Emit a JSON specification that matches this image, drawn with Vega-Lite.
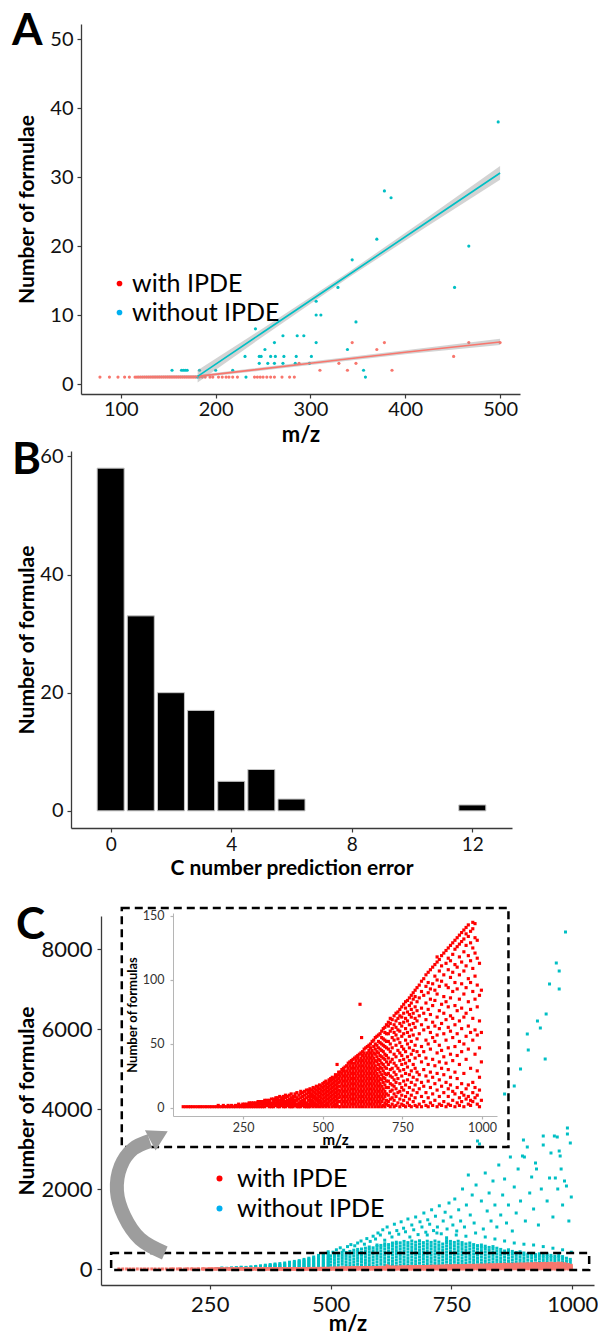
{
  "$schema": "https://vega.github.io/schema/vega-lite/v6.json",
  "background": "white",
  "padding": {"left": 12, "top": 10, "right": 0, "bottom": 0},
  "config": {
    "font": "Lato",
    "view": {"stroke": null},
    "axis": {"grid": false, "domainColor": "#3a3a3a", "tickColor": "#3a3a3a", "domainWidth": 1.3, "tickWidth": 1.2, "tickSize": 4, "labelColor": "#111111", "titleColor": "#000000", "labelFont": "Lato", "titleFont": "Lato", "titleFontWeight": "bold", "labelFlush": false, "labelOverlap": false},
    "title": {"font": "Lato", "fontSize": 44, "fontWeight": "bold", "anchor": "start", "frame": "bounds", "baseline": "alphabetic", "offset": 0, "color": "#000000"},
    "legend": {"labelFont": "Lato", "labelColor": "#000000", "symbolType": "circle", "symbolStrokeWidth": 0, "symbolOpacity": 1}
  },
  "columns": 1,
  "align": "none",
  "spacing": 25,
  "resolve": {"scale": {"fill": "independent"}, "legend": {"fill": "independent"}},
  "concat": [
    {
      "columns": 1,
      "align": "none",
      "spacing": -6,
      "resolve": {"scale": {"fill": "independent"}, "legend": {"fill": "independent"}},
      "concat": [
        {
          "title": {"text": "A", "dy": 34, "dx": -4},
          "width": 449,
          "height": 370,
          "layer": [
            {
              "data": {"values": "x,y\n78,1\n88,1\n97,1\n104,1\n109,1\n115,1\n117,1\n119,1\n121,1\n123,1\n125,1\n127,1\n129,1\n131,1\n133,1\n135,1\n137,1\n139,1\n141,1\n143,1\n145,1\n147,1\n149,1\n151,1\n153,1\n155,1\n157,1\n159,1\n161,1\n163,1\n165,1\n167,1\n169,1\n171,1\n173,1\n175,1\n177,1\n179,1\n183,1\n186,1\n189,1\n194,1\n197,1\n203,1\n207,1\n211,1\n214,1\n218,1\n223,1\n241,1\n244,1\n247,1\n250,1\n254,1\n258,1\n262,1\n270,1\n278,1\n283,1\n310,2\n339,2\n386,2\n288,3\n330,3\n348,3\n451,4\n370,5\n344,6\n378,6\n467,6\n500,6", "format": {"type": "csv", "parse": {"x": "number", "y": "number"}}},
              "mark": {"type": "point", "filled": true, "size": 10, "opacity": 1, "color": "#F8766D"},
              "encoding": {
                "x": {"field": "x", "type": "quantitative", "scale": {"domain": [58, 521], "range": [10, 449], "nice": false, "zero": false}, "axis": {"title": "m/z", "values": [100, 200, 300, 400, 500], "labelFontSize": 20, "titleFontSize": 22, "labelPadding": 1, "titlePadding": 5}},
                "y": {"field": "y", "type": "quantitative", "scale": {"domain": [-1.45, 52.2], "nice": false, "zero": false}, "axis": {"title": "Number of formulae", "offset": -10, "values": [0, 10, 20, 30, 40, 50], "labelFontSize": 20, "titleFontSize": 21, "labelPadding": 4, "minExtent": 30, "maxExtent": 30, "titlePadding": 14}}
              }
            },
            {
              "data": {"values": "x,y\n154,2\n164,2\n166,2\n168,2\n170,2\n183,2\n200,2\n218,2\n356,2\n181,1\n232,1\n358,1\n231,4\n246,4\n248,4\n258,4\n263,4\n272,4\n285,4\n301,4\n246,3\n255,3\n262,3\n271,3\n284,3\n299,3\n252,5\n339,5\n262,6\n306,6\n271,7\n286,7\n293,7\n242,8\n348,9\n306,10\n311,10\n306,12\n329,14\n452,14\n344,18\n370,21\n378,28\n385,27\n467,20\n498,38", "format": {"type": "csv", "parse": {"x": "number", "y": "number"}}},
              "mark": {"type": "point", "filled": true, "size": 10, "opacity": 1, "color": "#00BFC4"},
              "encoding": {
                "x": {"field": "x", "type": "quantitative"},
                "y": {"field": "y", "type": "quantitative"}
              }
            },
            {
              "data": {"name": "fits", "values": [
                {"g": "with IPDE", "x": 117, "y": 1.05, "lo": 0.9, "hi": 1.2},
                {"g": "with IPDE", "x": 181, "y": 1.1, "lo": 0.9, "hi": 1.3},
                {"g": "with IPDE", "x": 300, "y": 3.0, "lo": 2.75, "hi": 3.25},
                {"g": "with IPDE", "x": 400, "y": 4.6, "lo": 4.3, "hi": 4.9},
                {"g": "with IPDE", "x": 500, "y": 6.1, "lo": 5.65, "hi": 6.55},
                {"g": "without IPDE", "x": 181, "y": 1.1, "lo": 0.2, "hi": 2.0},
                {"g": "without IPDE", "x": 250, "y": 7.5, "lo": 6.9, "hi": 8.1},
                {"g": "without IPDE", "x": 340, "y": 15.8, "lo": 15.4, "hi": 16.2},
                {"g": "without IPDE", "x": 420, "y": 23.2, "lo": 22.6, "hi": 23.8},
                {"g": "without IPDE", "x": 500, "y": 30.6, "lo": 29.6, "hi": 31.6}
              ]},
              "mark": {"type": "area", "color": "#9e9e9e", "opacity": 0.45},
              "encoding": {
                "x": {"field": "x", "type": "quantitative"},
                "y": {"field": "lo", "type": "quantitative"},
                "y2": {"field": "hi"},
                "detail": {"field": "g"}
              }
            },
            {
              "data": {"name": "fits"},
              "transform": [{"filter": {"field": "g", "equal": "with IPDE"}}],
              "mark": {"type": "line", "strokeWidth": 1.6, "color": "#F8766D"},
              "encoding": {
                "x": {"field": "x", "type": "quantitative"},
                "y": {"field": "y", "type": "quantitative"}
              }
            },
            {
              "data": {"name": "fits"},
              "transform": [{"filter": {"field": "g", "equal": "without IPDE"}}],
              "mark": {"type": "line", "strokeWidth": 1.6, "color": "#00BFC4"},
              "encoding": {
                "x": {"field": "x", "type": "quantitative"},
                "y": {"field": "y", "type": "quantitative"}
              }
            },
            {
              "data": {"values": [{"g": "with IPDE"}, {"g": "without IPDE"}]},
              "mark": {"type": "point", "filled": true, "opacity": 0},
              "encoding": {
                "fill": {"field": "g", "type": "nominal", "scale": {"domain": ["with IPDE", "without IPDE"], "range": ["#ff0000", "#00b0f0"]}, "legend": {"orient": "none", "legendX": 36, "legendY": 247, "title": null, "labelFontSize": 25, "symbolSize": 32, "labelOffset": 0, "rowPadding": 3, "symbolType": "circle", "symbolOpacity": 1}}
              }
            }
          ]
        },
        {
          "title": {"text": "B", "dy": 41, "dx": -4},
          "width": 441,
          "height": 377,
          "data": {"values": [
            {"err": 0, "n": 58}, {"err": 1, "n": 33}, {"err": 2, "n": 20}, {"err": 3, "n": 17},
            {"err": 4, "n": 5}, {"err": 5, "n": 7}, {"err": 6, "n": 2}, {"err": 12, "n": 1}
          ]},
          "mark": {"type": "bar", "width": 27, "color": "#000000", "stroke": "#c4c4c4", "strokeWidth": 1},
          "encoding": {
            "x": {"field": "err", "type": "quantitative", "scale": {"domain": [-1.15, 13.15], "nice": false, "zero": false}, "axis": {"title": "C number prediction error", "values": [0, 4, 8, 12], "labelFontSize": 19, "titleFontSize": 21, "labelPadding": 3, "titlePadding": 3}},
            "y": {"field": "n", "type": "quantitative", "scale": {"domain": [-2.9, 60.9], "nice": false, "zero": false}, "axis": {"title": "Number of formulae", "values": [0, 20, 40, 60], "labelFontSize": 20, "titleFontSize": 21, "labelPadding": 4, "minExtent": 30, "maxExtent": 30, "titlePadding": 4}}
          }
        }
      ]
    },
    {
      "title": {"text": "C", "dy": 45},
      "width": 523,
      "height": 369,
      "data": {"values": "x,y\n62,1\n70,1\n78,1\n85,1\n92,1\n100,1\n108,1\n115,1\n122,1\n130,1\n137,1\n145,1\n152,1\n160,1\n168,1\n175,1\n183,1\n190,1\n198,1\n205,1\n212,1\n220,1\n227,1\n235,1\n242,1\n250,1\n172,2\n188,2\n203,2\n214,2\n226,2\n238,2\n247,2\n236,3\n249,3\n255,1\n255,2\n255,3\n262,1\n262,2\n262,3\n269,1\n269,2\n269,3\n269,4\n276,1\n276,2\n276,4\n283,1\n283,3\n283,4\n290,1\n290,2\n290,3\n290,4\n297,1\n297,2\n297,4\n297,5\n304,1\n304,3\n304,5\n311,1\n311,2\n311,4\n311,5\n318,1\n318,3\n318,5\n318,6\n325,2\n325,4\n325,6\n332,1\n332,3\n332,5\n332,6\n339,1\n339,2\n339,4\n339,7\n346,1\n346,3\n346,5\n346,7\n353,2\n353,4\n353,6\n353,8\n359,1\n359,3\n359,5\n359,7\n359,8\n365,1\n365,2\n365,4\n365,6\n365,9\n371,2\n371,4\n371,6\n371,8\n377,1\n377,3\n377,5\n377,7\n377,9\n383,1\n383,3\n383,5\n383,8\n383,10\n389,2\n389,4\n389,6\n389,9\n395,1\n395,3\n395,5\n395,7\n395,10\n401,1\n401,2\n401,4\n401,6\n401,8\n401,11\n407,1\n407,3\n407,5\n407,7\n407,9\n413,2\n413,4\n413,6\n413,9\n413,11\n419,1\n419,3\n419,6\n419,8\n419,12\n425,1\n425,2\n425,4\n425,7\n425,10\n431,1\n431,3\n431,5\n431,8\n431,11\n431,13\n437,2\n437,4\n437,6\n437,9\n437,12\n443,1\n443,3\n443,5\n443,7\n443,10\n443,13\n449,1\n449,2\n449,4\n449,8\n449,11\n449,14\n455,1\n455,3\n455,6\n455,9\n455,12\n455,14\n460,1\n460,3\n460,5\n460,7\n460,10\n460,12\n460,15\n465,2\n465,4\n465,6\n465,9\n465,11\n465,14\n470,1\n470,3\n470,5\n470,8\n470,10\n470,13\n470,16\n475,2\n475,4\n475,7\n475,9\n475,12\n475,15\n480,1\n480,3\n480,6\n480,8\n480,11\n480,14\n480,17\n485,2\n485,5\n485,7\n485,10\n485,13\n485,16\n490,1\n490,4\n490,6\n490,9\n490,12\n490,15\n490,18\n495,2\n495,3\n495,5\n495,8\n495,11\n495,14\n495,17\n500,1\n500,4\n500,7\n500,10\n500,13\n500,16\n500,19\n505,2\n505,5\n505,8\n505,11\n505,14\n505,17\n505,20\n510,1\n510,3\n510,6\n510,9\n510,12\n510,15\n510,18\n510,21\n515,2\n515,4\n515,7\n515,10\n515,13\n515,16\n515,19\n520,1\n520,5\n520,8\n520,11\n520,14\n520,17\n520,20\n520,22\n525,3\n525,6\n525,9\n525,12\n525,15\n525,18\n525,21\n525,23\n530,1\n530,4\n530,7\n530,10\n530,13\n530,16\n530,19\n530,22\n530,24\n535,2\n535,5\n535,8\n535,11\n535,14\n535,17\n535,20\n535,23\n545,34\n540,1\n540,3\n540,6\n540,9\n540,12\n540,15\n540,18\n540,21\n540,24\n540,26\n545,2\n545,4\n545,7\n545,10\n545,13\n545,16\n545,19\n545,22\n545,25\n550,1\n550,5\n550,8\n550,11\n550,14\n550,17\n550,20\n550,23\n550,26\n550,28\n555,1\n555,5\n555,9\n555,13\n555,17\n555,21\n555,25\n555,28\n560,3\n560,7\n560,11\n560,15\n560,19\n560,23\n560,27\n560,30\n565,1\n565,5\n565,9\n565,13\n565,17\n565,21\n565,25\n565,29\n565,31\n570,3\n570,7\n570,11\n570,15\n570,19\n570,23\n570,27\n570,32\n575,1\n575,5\n575,9\n575,13\n575,17\n575,21\n575,25\n575,29\n575,33\n580,3\n580,7\n580,11\n580,15\n580,19\n580,23\n580,27\n580,31\n580,35\n585,1\n585,5\n585,9\n585,13\n585,17\n585,21\n585,25\n585,29\n585,33\n585,36\n590,3\n590,7\n590,11\n590,15\n590,19\n590,23\n590,27\n590,31\n590,35\n590,37\n595,1\n595,5\n595,9\n595,13\n595,17\n595,21\n595,25\n595,29\n595,33\n595,38\n600,3\n600,7\n600,11\n600,15\n600,19\n600,23\n600,27\n600,31\n600,35\n600,39\n605,1\n605,5\n605,9\n605,13\n605,17\n605,21\n605,25\n605,29\n605,33\n605,37\n605,40\n610,3\n610,7\n610,11\n610,15\n610,19\n610,23\n610,27\n610,31\n610,35\n610,39\n610,41\n615,1\n615,5\n615,9\n615,13\n615,17\n615,21\n615,25\n615,29\n615,33\n615,37\n615,42\n617,81\n620,3\n620,7\n620,11\n620,15\n620,19\n620,23\n620,27\n620,31\n620,35\n620,39\n620,43\n622,55\n625,1\n625,5\n625,9\n625,13\n625,17\n625,21\n625,25\n625,29\n625,33\n625,37\n625,41\n625,44\n630,3\n630,7\n630,11\n630,15\n630,19\n630,23\n630,27\n630,31\n630,35\n630,39\n630,43\n630,46\n635,1\n635,5\n635,9\n635,13\n635,17\n635,21\n635,25\n635,29\n635,33\n635,37\n635,41\n635,47\n640,3\n640,7\n640,11\n640,15\n640,19\n640,23\n640,27\n640,31\n640,35\n640,39\n640,43\n640,48\n645,1\n645,5\n645,9\n645,13\n645,17\n645,21\n645,25\n645,29\n645,33\n645,37\n645,41\n645,45\n645,49\n650,3\n650,7\n650,11\n650,15\n650,19\n650,23\n650,27\n650,31\n650,35\n650,39\n650,43\n650,47\n650,50\n655,1\n655,5\n655,9\n655,13\n655,17\n655,21\n655,25\n655,29\n655,33\n655,37\n655,41\n655,45\n655,52\n660,3\n660,7\n660,11\n660,15\n660,19\n660,23\n660,27\n660,31\n660,35\n660,39\n660,43\n660,48\n660,53\n665,1\n665,5\n665,9\n665,13\n665,17\n665,21\n665,25\n665,29\n665,33\n665,37\n665,42\n665,46\n665,50\n665,55\n670,3\n670,7\n670,11\n670,15\n670,19\n670,23\n670,27\n670,31\n670,36\n670,40\n670,44\n670,49\n670,56\n675,1\n675,5\n675,9\n675,13\n675,17\n675,21\n675,25\n675,30\n675,34\n675,38\n675,43\n675,47\n675,52\n675,57\n680,3\n680,7\n680,11\n680,15\n680,19\n680,23\n680,28\n680,32\n680,37\n680,41\n680,46\n680,51\n680,58\n685,1\n685,5\n685,9\n685,13\n685,17\n685,22\n685,26\n685,31\n685,35\n685,40\n685,45\n685,50\n685,55\n685,60\n690,2\n690,7\n690,11\n690,15\n690,20\n690,24\n690,29\n690,34\n690,39\n690,44\n690,49\n690,54\n690,62\n695,1\n695,4\n695,9\n695,13\n695,18\n695,23\n695,27\n695,32\n695,38\n695,42\n695,48\n695,53\n695,59\n695,63\n700,3\n700,6\n700,11\n700,16\n700,21\n700,26\n700,31\n700,36\n700,41\n700,47\n700,52\n700,58\n700,65\n706,2\n706,5\n706,10\n706,16\n706,21\n706,27\n706,34\n706,39\n706,46\n706,52\n706,58\n706,64\n706,67\n712,1\n712,7\n712,13\n712,19\n712,25\n712,30\n712,36\n712,44\n712,50\n712,60\n712,66\n712,70\n718,3\n718,8\n718,14\n718,18\n718,24\n718,31\n718,38\n718,47\n718,55\n718,62\n718,69\n724,1\n724,6\n724,11\n724,17\n724,22\n724,28\n724,35\n724,42\n724,53\n724,59\n724,65\n724,72\n730,2\n730,9\n730,15\n730,20\n730,26\n730,33\n730,40\n730,49\n730,57\n730,63\n730,68\n730,74\n736,4\n736,12\n736,23\n736,31\n736,45\n736,54\n736,61\n736,70\n736,75\n742,1\n742,7\n742,13\n742,19\n742,29\n742,37\n742,43\n742,51\n742,60\n742,66\n742,72\n742,77\n748,3\n748,10\n748,16\n748,25\n748,34\n748,41\n748,48\n748,56\n748,64\n748,71\n748,79\n754,2\n754,6\n754,14\n754,21\n754,30\n754,38\n754,46\n754,58\n754,67\n754,74\n754,81\n760,1\n760,9\n760,18\n760,27\n760,35\n760,44\n760,53\n760,62\n760,70\n760,78\n760,83\n766,4\n766,12\n766,22\n766,32\n766,40\n766,50\n766,59\n766,68\n766,75\n766,84\n772,2\n772,7\n772,16\n772,26\n772,37\n772,47\n772,56\n772,65\n772,73\n772,80\n772,86\n778,1\n778,10\n778,20\n778,29\n778,42\n778,52\n778,61\n778,71\n778,77\n778,82\n778,88\n784,5\n784,14\n784,24\n784,34\n784,45\n784,57\n784,66\n784,74\n784,85\n784,90\n790,2\n790,8\n790,18\n790,31\n790,39\n790,49\n790,63\n790,70\n790,79\n790,87\n790,92\n796,1\n796,12\n796,22\n796,28\n796,44\n796,54\n796,68\n796,76\n796,83\n796,94\n803,3\n803,15\n803,26\n803,41\n803,58\n803,72\n803,86\n803,96\n810,1\n810,9\n810,20\n810,36\n810,48\n810,65\n810,78\n810,91\n810,99\n817,5\n817,17\n817,30\n817,44\n817,61\n817,74\n817,88\n817,101\n824,2\n824,12\n824,25\n824,39\n824,53\n824,69\n824,82\n824,95\n824,104\n831,1\n831,8\n831,21\n831,34\n831,50\n831,63\n831,77\n831,90\n831,98\n831,106\n838,4\n838,16\n838,28\n838,46\n838,59\n838,73\n838,85\n838,93\n838,108\n845,2\n845,11\n845,24\n845,38\n845,55\n845,67\n845,80\n845,97\n845,110\n852,6\n852,19\n852,33\n852,52\n852,64\n852,84\n852,92\n852,103\n852,112\n859,1\n859,14\n859,27\n859,43\n859,57\n859,71\n859,89\n859,100\n859,114\n859,118\n866,3\n866,9\n866,22\n866,36\n866,49\n866,62\n866,76\n866,95\n866,107\n866,116\n873,2\n873,17\n873,31\n873,45\n873,66\n873,81\n873,99\n873,111\n873,119\n880,5\n880,12\n880,26\n880,40\n880,58\n880,74\n880,87\n880,104\n880,121\n887,1\n887,20\n887,35\n887,53\n887,69\n887,83\n887,96\n887,113\n887,123\n894,3\n894,9\n894,15\n894,30\n894,47\n894,63\n894,79\n894,94\n894,108\n894,117\n894,125\n901,2\n901,18\n901,24\n901,42\n901,60\n901,72\n901,86\n901,102\n901,115\n901,127\n908,6\n908,13\n908,37\n908,55\n908,70\n908,91\n908,106\n908,120\n908,129\n915,1\n915,11\n915,28\n915,48\n915,65\n915,80\n915,98\n915,112\n915,124\n915,131\n922,4\n922,16\n922,23\n922,41\n922,58\n922,76\n922,93\n922,110\n922,126\n922,133\n929,2\n929,8\n929,34\n929,52\n929,68\n929,85\n929,104\n929,118\n929,128\n929,135\n936,5\n936,12\n936,19\n936,44\n936,62\n936,78\n936,97\n936,114\n936,130\n936,137\n943,1\n943,10\n943,27\n943,50\n943,71\n943,89\n943,107\n943,122\n943,132\n943,139\n950,7\n950,15\n950,38\n950,56\n950,74\n950,94\n950,111\n950,127\n950,136\n950,141\n957,3\n957,9\n957,18\n957,46\n957,64\n957,83\n957,101\n957,119\n957,134\n957,143\n964,2\n964,6\n964,31\n964,59\n964,77\n964,98\n964,115\n964,129\n964,138\n971,5\n971,12\n971,20\n971,53\n971,70\n971,91\n971,109\n971,125\n971,140\n971,145\n978,8\n978,16\n978,42\n978,61\n978,85\n978,103\n978,121\n978,133\n978,144\n985,3\n985,10\n985,29\n985,57\n985,79\n985,96\n985,117\n985,131\n992,1\n992,14\n992,24\n992,47\n992,68\n992,88\n992,113\n998,6\n998,36\n998,59\n998,92", "format": {"type": "csv", "parse": {"x": "number", "y": "number"}}},
      "resolve": {"scale": {"x": "independent", "y": "independent"}},
      "layer": [
        {
          "layer": [
            {
              "data": {"values": "x,y\n265,5\n265,12\n275,6\n275,15\n275,25\n285,8\n285,18\n295,5\n295,14\n295,28\n305,10\n305,22\n305,35\n315,6\n315,18\n315,30\n315,45\n325,12\n325,26\n325,40\n335,8\n335,20\n335,34\n335,55\n345,15\n345,30\n345,48\n345,65\n355,10\n355,25\n355,40\n355,60\n355,80\n365,18\n365,35\n365,55\n365,75\n365,95\n375,12\n375,30\n375,50\n375,70\n375,90\n375,110\n385,20\n385,40\n385,62\n385,85\n385,105\n385,125\n395,15\n395,35\n395,58\n395,80\n395,100\n395,135\n405,25\n405,48\n405,72\n405,96\n405,120\n405,150\n415,18\n415,42\n415,66\n415,90\n415,115\n415,140\n415,170\n425,30\n425,55\n425,80\n425,105\n425,130\n425,160\n425,190\n435,22\n435,48\n435,74\n435,100\n435,128\n435,155\n435,185\n435,210\n445,35\n445,62\n445,90\n445,118\n445,146\n445,175\n445,205\n445,240\n455,25\n455,55\n455,85\n455,115\n455,145\n455,178\n455,210\n455,245\n455,270\n465,40\n465,70\n465,100\n465,130\n465,165\n465,200\n465,235\n465,270\n465,300\n475,30\n475,60\n475,95\n475,125\n475,160\n475,195\n475,230\n475,270\n475,310\n475,340\n485,45\n485,80\n485,115\n485,150\n485,185\n485,225\n485,265\n485,305\n485,345\n485,380\n495,35\n495,70\n495,105\n495,145\n495,180\n495,220\n495,260\n495,300\n495,345\n495,390\n495,430\n500,25\n500,100\n500,180\n500,255\n500,330\n508,60\n508,140\n508,215\n508,290\n508,360\n516,20\n516,95\n516,175\n516,250\n516,325\n516,390\n524,55\n524,135\n524,210\n524,285\n524,355\n524,420\n532,30\n532,105\n532,180\n532,260\n532,335\n532,410\n540,65\n540,140\n540,220\n540,295\n540,370\n540,440\n548,20\n548,100\n548,175\n548,250\n548,330\n548,405\n548,470\n556,55\n556,130\n556,210\n556,285\n556,360\n556,435\n556,490\n564,25\n564,105\n564,185\n564,260\n564,340\n564,415\n564,500\n572,60\n572,140\n572,215\n572,295\n572,370\n572,445\n572,520\n580,30\n580,110\n580,190\n580,265\n580,345\n580,420\n580,495\n580,550\n588,65\n588,145\n588,225\n588,300\n588,380\n588,455\n588,530\n596,20\n596,100\n596,180\n596,260\n596,335\n596,410\n596,490\n596,565\n596,600\n604,55\n604,135\n604,215\n604,295\n604,370\n604,450\n604,525\n604,590\n612,25\n612,105\n612,185\n612,265\n612,345\n612,420\n612,500\n612,575\n612,630\n620,60\n620,140\n620,220\n620,300\n620,380\n620,455\n620,535\n620,610\n628,30\n628,110\n628,190\n628,270\n628,350\n628,430\n628,505\n628,585\n628,650\n636,65\n636,145\n636,225\n636,305\n636,385\n636,460\n636,540\n636,620\n636,670\n644,20\n644,100\n644,180\n644,260\n644,340\n644,420\n644,500\n644,575\n644,655\n652,55\n652,135\n652,215\n652,295\n652,375\n652,455\n652,530\n652,610\n652,690\n660,25\n660,105\n660,185\n660,265\n660,345\n660,425\n660,505\n660,585\n660,660\n668,60\n668,140\n668,220\n668,300\n668,380\n668,460\n668,540\n668,620\n668,700\n676,30\n676,110\n676,190\n676,270\n676,350\n676,430\n676,510\n676,590\n676,670\n684,65\n684,145\n684,225\n684,305\n684,385\n684,465\n684,545\n684,625\n684,705\n692,20\n692,100\n692,180\n692,260\n692,340\n692,420\n692,500\n692,580\n692,660\n700,55\n700,135\n700,215\n700,295\n700,375\n700,455\n700,535\n700,615\n700,695\n708,25\n708,105\n708,185\n708,265\n708,345\n708,425\n708,505\n708,585\n708,665\n716,60\n716,140\n716,220\n716,300\n716,380\n716,460\n716,540\n716,620\n716,700\n724,30\n724,110\n724,190\n724,270\n724,350\n724,430\n724,510\n724,590\n724,670\n732,65\n732,145\n732,225\n732,305\n732,385\n732,465\n732,545\n732,625\n740,20\n740,100\n740,180\n740,260\n740,340\n740,420\n740,500\n740,580\n740,660\n740,710\n748,55\n748,135\n748,215\n748,295\n748,375\n748,455\n748,535\n748,615\n748,690\n756,25\n756,105\n756,185\n756,265\n756,345\n756,425\n756,505\n756,585\n756,665\n764,60\n764,140\n764,220\n764,300\n764,380\n764,460\n764,540\n764,620\n764,695\n772,30\n772,110\n772,190\n772,270\n772,350\n772,430\n772,510\n772,590\n772,660\n780,65\n780,145\n780,225\n780,305\n780,385\n780,465\n780,545\n780,625\n788,20\n788,100\n788,180\n788,260\n788,340\n788,420\n788,500\n788,580\n788,650\n796,55\n796,135\n796,215\n796,295\n796,375\n796,455\n796,535\n796,610\n804,25\n804,105\n804,185\n804,265\n804,345\n804,425\n804,505\n804,585\n812,60\n812,140\n812,220\n812,300\n812,380\n812,460\n812,540\n812,600\n820,30\n820,110\n820,190\n820,270\n820,350\n820,430\n820,510\n820,570\n828,65\n828,145\n828,225\n828,305\n828,385\n828,465\n828,540\n836,20\n836,100\n836,180\n836,260\n836,340\n836,420\n836,500\n836,560\n844,55\n844,135\n844,215\n844,295\n844,375\n844,450\n844,520\n852,25\n852,105\n852,185\n852,265\n852,345\n852,420\n852,490\n860,60\n860,140\n860,220\n860,300\n860,380\n860,450\n868,30\n868,110\n868,190\n868,270\n868,350\n868,420\n868,480\n876,65\n876,145\n876,225\n876,305\n876,385\n876,440\n884,20\n884,100\n884,180\n884,260\n884,340\n884,410\n892,55\n892,135\n892,215\n892,295\n892,370\n892,430\n900,25\n900,105\n900,185\n900,265\n900,345\n900,400\n908,60\n908,140\n908,220\n908,300\n908,370\n916,30\n916,110\n916,190\n916,270\n916,340\n916,390\n924,65\n924,145\n924,225\n924,300\n924,360\n932,20\n932,100\n932,180\n932,260\n932,330\n932,380\n940,55\n940,135\n940,215\n940,290\n940,350\n948,25\n948,105\n948,185\n948,260\n948,320\n948,370\n956,60\n956,140\n956,220\n956,290\n956,340\n964,30\n964,110\n964,190\n964,260\n964,320\n972,65\n972,145\n972,220\n972,290\n972,340\n980,20\n980,100\n980,180\n980,250\n980,310\n988,55\n988,130\n988,200\n988,270\n996,30\n996,110\n996,180\n996,240\n505,420\n512,480\n520,530\n527,470\n535,560\n542,610\n550,580\n556,650\n563,700\n570,620\n575,760\n582,690\n588,820\n593,750\n598,900\n603,850\n608,980\n612,720\n617,1050\n622,900\n627,800\n632,1120\n637,960\n641,870\n646,1180\n651,1020\n655,930\n660,1250\n664,800\n668,1100\n672,980\n676,1300\n681,860\n685,1180\n689,1050\n693,1400\n697,920\n701,1230\n705,1120\n709,1480\n713,960\n717,1320\n721,1050\n725,1580\n729,880\n733,1200\n737,1420\n741,1000\n745,1650\n749,1300\n753,1100\n757,1750\n761,950\n765,1480\n769,1200\n773,2000\n777,1050\n781,1600\n785,2350\n789,1350\n793,1850\n797,1150\n801,2100\n804,3200\n808,3125\n812,1700\n816,1000\n820,2400\n824,1450\n828,1900\n832,1200\n836,2200\n840,1600\n844,1050\n848,2600\n852,1350\n856,1850\n860,2250\n860,4375\n864,1150\n868,1600\n872,2800\n876,950\n880,2050\n880,4575\n884,1400\n888,2500\n893,5000\n893,1700\n897,2825\n899,3225\n901,2800\n903,1200\n907,3050\n907,5875\n909,5475\n912,1900\n916,2300\n920,1500\n924,2650\n926,2500\n928,6200\n930,1100\n934,6025\n936,2000\n940,3325\n940,3100\n944,5250\n946,6375\n948,1700\n953,2275\n953,7125\n956,2900\n960,1300\n963,3325\n965,2275\n967,7650\n969,3300\n970,2000\n973,7450\n973,7000\n973,2950\n975,2825\n977,2500\n980,1600\n984,2200\n988,2075\n990,3525\n990,3375\n986,8425\n993,1200\n996,3150\n998,1800\n700,850\n720,900\n740,780\n760,850\n780,820\n800,900\n820,800\n840,750\n860,700\n880,650\n900,620\n920,600\n940,560\n960,520\n980,480\n998,420", "format": {"type": "csv", "parse": {"x": "number", "y": "number"}}},
              "mark": {"type": "square", "size": 9, "opacity": 1, "color": "#00BFC4"},
              "encoding": {
                "x": {"field": "x", "type": "quantitative", "scale": {"domain": [25, 1045], "range": [30, 523], "nice": false, "zero": false}, "axis": {"title": "m/z", "format": "d", "values": [250, 500, 750, 1000], "labelFontSize": 22, "titleFontSize": 22, "labelPadding": 5, "titlePadding": -2}},
                "y": {"field": "y", "type": "quantitative", "scale": {"domain": [-400, 8825], "nice": false, "zero": false}, "axis": {"title": "Number of formulae", "format": "d", "offset": -30, "values": [0, 2000, 4000, 6000, 8000], "labelFontSize": 22, "titleFontSize": 21, "labelPadding": 5, "minExtent": 60, "maxExtent": 60, "titlePadding": 4}}
              }
            },
            {
              "mark": {"type": "square", "size": 9, "opacity": 1, "color": "#F8766D"},
              "encoding": {
                "x": {"field": "x", "type": "quantitative"},
                "y": {"field": "y", "type": "quantitative"}
              }
            },
            {
              "data": {"values": [{"x0": 46, "x1": 1035, "y0": -25, "y1": 400}, {"x0": 68, "x1": 868, "y0": 3050, "y1": 9025}]},
              "mark": {"type": "rect", "fillOpacity": 0, "stroke": "#000000", "strokeWidth": 2.5, "strokeDash": [8, 5], "clip": false},
              "encoding": {
                "x": {"field": "x0", "type": "quantitative"},
                "x2": {"field": "x1"},
                "y": {"field": "y0", "type": "quantitative"},
                "y2": {"field": "y1"}
              }
            },
            {
              "data": {"values": [{"i": 0, "x": 157, "y": 400}, {"i": 1, "x": 106, "y": 750}, {"i": 2, "x": 73, "y": 1325}, {"i": 3, "x": 58, "y": 1950}, {"i": 4, "x": 66, "y": 2575}, {"i": 5, "x": 91, "y": 3000}, {"i": 6, "x": 126, "y": 3200}]},
              "mark": {"type": "line", "interpolate": "catmull-rom", "strokeWidth": 14, "color": "#9d9d9d", "strokeCap": "butt", "clip": false},
              "encoding": {
                "x": {"field": "x", "type": "quantitative"},
                "y": {"field": "y", "type": "quantitative"},
                "order": {"field": "i", "type": "quantitative"}
              }
            },
            {
              "data": {"values": [{"x": 145, "y": 3330}]},
              "mark": {"type": "point", "shape": "triangle-right", "size": 520, "angle": -28, "filled": true, "color": "#9d9d9d", "opacity": 1, "clip": false},
              "encoding": {
                "x": {"field": "x", "type": "quantitative"},
                "y": {"field": "y", "type": "quantitative"}
              }
            },
            {
              "data": {"values": [{"g": "with IPDE"}, {"g": "without IPDE"}]},
              "mark": {"type": "point", "filled": true, "opacity": 0},
              "encoding": {
                "fill": {"field": "g", "type": "nominal", "scale": {"domain": ["with IPDE", "without IPDE"], "range": ["#ff0000", "#00b0f0"]}, "legend": {"orient": "none", "legendX": 136, "legendY": 250, "title": null, "labelFontSize": 25, "symbolSize": 36, "labelOffset": 5, "rowPadding": 4, "symbolType": "circle", "symbolOpacity": 1}}
              }
            }
          ]
        },
        {
          "mark": {"type": "square", "size": 10, "color": "#ff0000", "opacity": 1},
          "encoding": {
            "x": {"field": "x", "type": "quantitative", "scale": {"domain": [30, 1047], "range": [102, 426], "nice": false, "zero": false}, "axis": {"orient": "bottom", "offset": -169, "title": "m/z", "format": "d", "values": [250, 500, 750, 1000], "labelFontSize": 12.5, "titleFontSize": 15, "tickSize": 3, "labelPadding": 2, "titlePadding": -1, "domainColor": "#b5b5b5", "tickColor": "#b5b5b5", "labelColor": "#333333", "domainWidth": 1}},
            "y": {"field": "y", "type": "quantitative", "scale": {"domain": [-6.25, 152.3], "range": [200, -3], "nice": false, "zero": false}, "axis": {"orient": "left", "offset": -102, "title": "Number of formulas", "values": [0, 50, 100, 150], "labelFontSize": 12.5, "titleFontSize": 13, "tickSize": 3, "labelPadding": 6, "titlePadding": 3, "domainColor": "#b5b5b5", "tickColor": "#b5b5b5", "labelColor": "#333333", "domainWidth": 1}}
          }
        }
      ]
    }
  ]
}
